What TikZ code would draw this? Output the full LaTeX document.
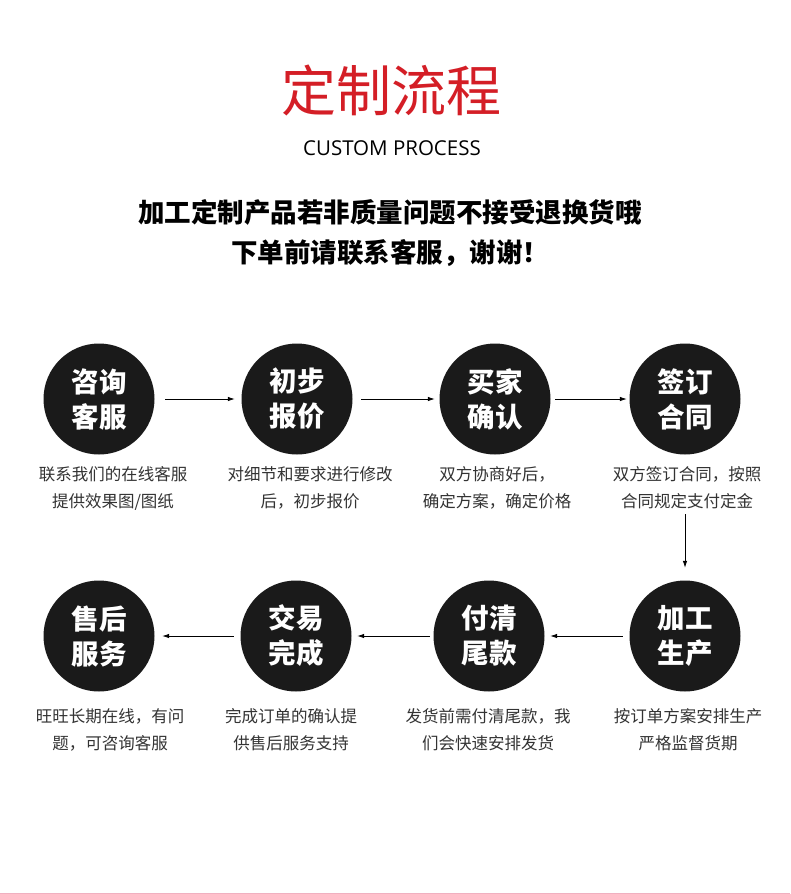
\documentclass[tikz,border=0pt]{standalone}
\usepackage{fontspec}
\newfontfamily\cjk{Noto Sans CJK SC}
\newfontfamily\latinsans{Open Sans}
\usetikzlibrary{arrows.meta}
\definecolor{titlered}{RGB}{212,30,38}
\definecolor{disc}{RGB}{26,26,26}
\definecolor{captxt}{RGB}{51,51,51}
\definecolor{edgepink}{RGB}{240,176,192}
\begin{document}
\begin{tikzpicture}[x=1pt,y=-1pt,
  stage/.style={circle, fill=disc, minimum size=111pt, inner sep=0pt, text=white,
    font=\cjk\bfseries\fontsize{27.5}{35}\selectfont, align=center},
  caption/.style={text=captxt, font=\cjk\fontsize{16.5}{27}\selectfont, align=center, inner sep=0pt},
  flow/.style={-{Latex[length=7pt,width=4.5pt]}, line width=0.8pt, black}]
\useasboundingbox (0,0) rectangle (790,894);
\fill[white] (0,0) rectangle (790,894);
\draw[edgepink, line width=1.2pt] (0,893.4) -- (790,893.4);
% titles
\node[text=titlered, font=\cjk\fontsize{55}{60}\selectfont] (title) at (391,90) {定制流程};
\node[font=\latinsans\fontsize{20.5}{24}\selectfont] (subtitle) at (392,148) {CUSTOM PROCESS};
\node[font=\cjk\bfseries\fontsize{26.5}{40}\selectfont, align=center] (notice) at (390,233)
  {加工定制产品若非质量问题不接受退换货哦\\下单前请联系客服，谢谢！};
% row 1
\node[stage] (c1) at (99,399) {咨询\\客服};
\node[stage] (c2) at (297,399) {初步\\报价};
\node[stage] (c3) at (495,399) {买家\\确认};
\node[stage] (c4) at (685,399) {签订\\合同};
\node[caption] (t1) at (113,488) {联系我们的在线客服\\提供效果图/图纸};
\node[caption] (t2) at (310,488) {对细节和要求进行修改\\后，初步报价};
\node[caption] (t3) at (497,488) {双方协商好后，\\确定方案，确定价格};
\node[caption] (t4) at (687,488) {双方签订合同，按照\\合同规定支付定金};
% row 2
\node[stage] (c5) at (685,636) {加工\\生产};
\node[stage] (c6) at (489,636) {付清\\尾款};
\node[stage] (c7) at (296,636) {交易\\完成};
\node[stage] (c8) at (99,636) {售后\\服务};
\node[caption] (t5) at (688,730) {按订单方案安排生产\\严格监督货期};
\node[caption] (t6) at (488,730) {发货前需付清尾款，我\\们会快速安排发货};
\node[caption] (t7) at (291,730) {完成订单的确认提\\供售后服务支持};
\node[caption] (t8) at (110,730) {旺旺长期在线，有问\\题，可咨询客服};
% connectors
\draw[flow, shorten <=10.5pt, shorten >=6.5pt] (c1) -- (c2);
\draw[flow, shorten <=8.5pt, shorten >=4.5pt] (c2) -- (c3);
\draw[flow, shorten <=4.5pt, shorten >=2.5pt] (c3) -- (c4);
\coordinate (vstart) at (685,514);
\draw[flow, shorten >=12.5pt] (vstart) -- (c5);
\draw[flow, shorten <=6.5pt, shorten >=5.5pt] (c5) -- (c6);
\draw[flow, shorten <=3.5pt, shorten >=5.5pt] (c6) -- (c7);
\draw[flow, shorten <=6.5pt, shorten >=7.5pt] (c7) -- (c8);
\end{tikzpicture}
\end{document}
